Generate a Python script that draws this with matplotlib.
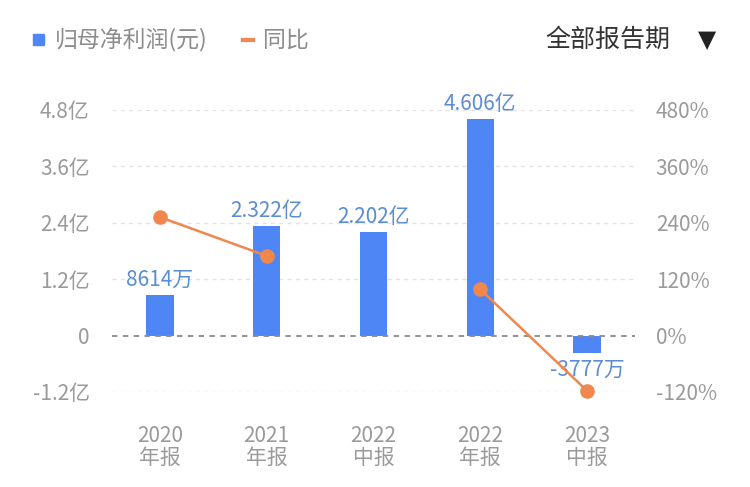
import matplotlib
matplotlib.use("Agg")
import matplotlib.pyplot as plt
import numpy as np

plt.rcParams['font.family'] = ['Noto Sans CJK SC', 'DejaVu Sans']

categories = ["2020\n年报", "2021\n年报", "2022\n中报", "2022\n年报", "2023\n中报"]
profit_yi = [0.8614, 2.322, 2.202, 4.606, -0.3777]
profit_labels = ["8614万", "2.322亿", "2.202亿", "4.606亿", "-3777万"]
yoy_pct = [252.0, 169.6, np.nan, 98.4, -117.2]
left_ticks = [-1.2, 0, 1.2, 2.4, 3.6, 4.8]
left_ticklabels = ["-1.2亿", "0", "1.2亿", "2.4亿", "3.6亿", "4.8亿"]
right_ticks = [-120, 0, 120, 240, 360, 480]
right_ticklabels = ["-120%", "0%", "120%", "240%", "360%", "480%"]

BAR = "#4f86f5"
LINE = "#f0884e"
LABEL = "#5b8dd3"
TICK = "#9a9a9a"

fig = plt.figure(figsize=(7.5, 4.87), dpi=100)
ax = fig.add_axes([112/750, 1-392/487, (635-112)/750, (392-110)/487])
ax2 = ax.twinx()

x = np.arange(len(categories))
ax.bar(x, profit_yi, width=0.256, color=BAR, zorder=2)
ax.set_ylim(-1.2, 4.8)
ax.set_xlim(-0.45, 4.45)
ax.set_yticks(left_ticks)
ax.set_yticklabels(left_ticklabels)
ax.set_xticks(x)
ax.set_xticklabels(categories, linespacing=1.0)
for v in left_ticks:
    if v == 0:
        ax.axhline(v, color="#8a8a8a", lw=1.3, ls=(0, (3, 3)), zorder=3)
    else:
        ax.axhline(v, color="#e3e3e3", lw=1.0, ls=(0, (3, 3)), zorder=1)

for xi, v, lab in zip(x, profit_yi, profit_labels):
    if v >= 0:
        ax.annotate(lab, (xi, v), xytext=(0, 3), textcoords="offset points",
                    ha="center", va="bottom", color=LABEL, fontsize=15, zorder=5)
    else:
        ax.annotate(lab, (xi, v), xytext=(0, -4), textcoords="offset points",
                    ha="center", va="top", color=LABEL, fontsize=15, zorder=5)

ax2.set_ylim(-120, 480)
ax2.plot(x, yoy_pct, color=LINE, lw=1.8, marker="o", markersize=9.5, zorder=4, clip_on=False)
ax2.set_yticks(right_ticks)
ax2.set_yticklabels(right_ticklabels)

for a in (ax, ax2):
    for s in a.spines.values():
        s.set_visible(False)
    a.tick_params(length=0, labelsize=15, colors=TICK)
ax.tick_params(axis="y", pad=16)
ax2.tick_params(axis="y", pad=15)
ax.tick_params(axis="x", pad=24)

# legend header
fig.patches.append(plt.Rectangle((33/750, 1-45/487), 11/750, 11/487, transform=fig.transFigure,
                                 color=BAR, zorder=5))
fig.text(55/750, 1-40/487, "归母净利润(元)", fontsize=16.5, color="#8c8c8c", va="center", ha="left")
fig.lines.append(plt.Line2D([243/750, 253/750], [1-40/487, 1-40/487], transform=fig.transFigure,
                            color=LINE, lw=3))
fig.text(263/750, 1-40/487, "同比", fontsize=16.5, color="#8c8c8c", va="center", ha="left")
fig.text(545/750, 1-40/487, "全部报告期", fontsize=18, color="#333333", va="center", ha="left")
fig.text(707/750, 1-40/487, "▼", fontsize=17, color="#222222", va="center", ha="center",
         family=['DejaVu Sans'])

fig.savefig("out.png", dpi=100, facecolor="white")
